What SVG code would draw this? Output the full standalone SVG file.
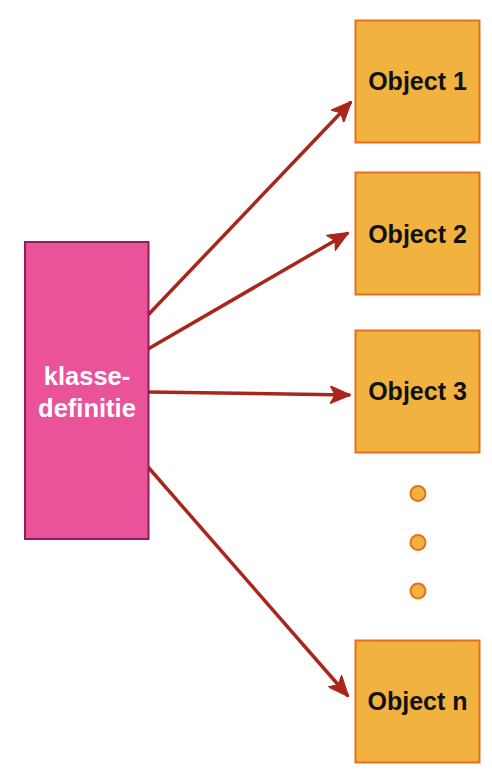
<svg xmlns="http://www.w3.org/2000/svg" width="492" height="774" viewBox="0 0 492 774">
<style>
.obj{fill:#F2B23F;stroke:#E2701F;stroke-width:2}
.ot{font-family:"Liberation Sans",Arial,sans-serif;font-size:25px;font-weight:bold;fill:#111;text-anchor:middle}
.kt{font-family:"Liberation Sans",Arial,sans-serif;font-size:25.5px;font-weight:bold;fill:#fff;text-anchor:middle}
.c{stroke:#A8261C;stroke-width:3.5;fill:none;marker-end:url(#ah)}
.dot{fill:#F2B23F;stroke:#E2701F;stroke-width:2}
</style>
<defs>
<marker id="ah" viewBox="0 0 21 18" refX="20" refY="9" markerWidth="21" markerHeight="18" markerUnits="userSpaceOnUse" orient="auto">
<path d="M0,0 L21,9 L0,18 L5,9 Z" fill="#A8261C" stroke="#A8261C" stroke-width="1" stroke-linejoin="miter"/>
</marker>
</defs>
<rect width="492" height="774" fill="#fff"/>
<g id="connectors">
<line class="c" x1="148" y1="315" x2="351" y2="102"/>
<line class="c" x1="148" y1="349" x2="348" y2="233"/>
<line class="c" x1="148" y1="392" x2="350" y2="395"/>
<line class="c" x1="148" y1="467" x2="348" y2="696"/>
</g>
<g id="klasse">
<rect x="25" y="242" width="123.5" height="297" fill="#EA539A" stroke="#8E1D58" stroke-width="2"/>
<text class="kt" x="87" y="385">klasse-</text>
<text class="kt" x="87" y="417">definitie</text>
</g>
<g id="object1">
<rect class="obj" x="355.5" y="20.5" width="124" height="122"/>
<text class="ot" x="417.5" y="90">Object 1</text>
</g>
<g id="object2">
<rect class="obj" x="355.5" y="172.5" width="124" height="122"/>
<text class="ot" x="417.5" y="243">Object 2</text>
</g>
<g id="object3">
<rect class="obj" x="355.5" y="330.5" width="124" height="122"/>
<text class="ot" x="417.5" y="400">Object 3</text>
</g>
<g id="dots">
<circle class="dot" cx="418" cy="493.5" r="7.5"/>
<circle class="dot" cx="418" cy="542.5" r="7.5"/>
<circle class="dot" cx="418" cy="591" r="7.5"/>
</g>
<g id="objectn">
<rect class="obj" x="355.5" y="640.5" width="124" height="122"/>
<text class="ot" x="417.5" y="710">Object n</text>
</g>
</svg>
